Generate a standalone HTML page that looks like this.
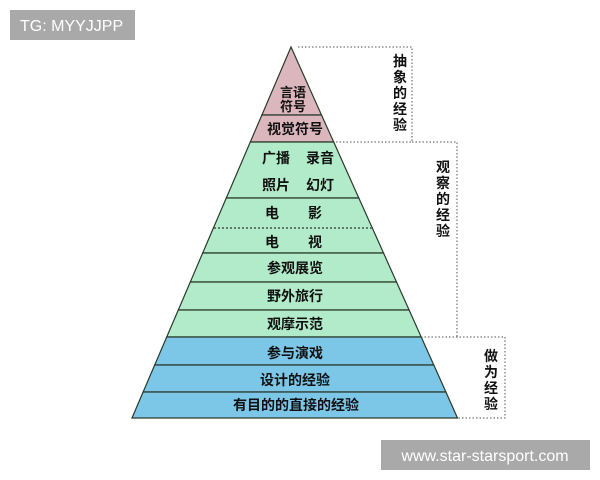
<!DOCTYPE html>
<html><head><meta charset="utf-8"><style>
body{margin:0;width:600px;height:480px;background:#fff;overflow:hidden;font-family:"Liberation Sans","Noto Sans CJK SC",sans-serif}
</style></head><body>
<svg width="600" height="480" xmlns="http://www.w3.org/2000/svg" style="position:absolute;left:0;top:0">
<rect x="10" y="10" width="125" height="30" fill="#a9a9a9"/>
<text x="20" y="31" font-size="16" fill="#fff" font-family="Liberation Sans, sans-serif">TG: MYYJJPP</text>
<g stroke="#2a3a2a" stroke-width="1.2">
<polygon points="291,47 321.5,115 261.9,115" fill="#dcb6bd"/>
<polygon points="261.9,115 321.5,115 333.7,142 250.3,142" fill="#dcb6bd"/>
<polygon points="250.3,142 333.7,142 358.8,198 226.3,198" fill="#b2ebc9"/>
<polygon points="226.3,198 358.8,198 372.3,228 213.4,228" fill="#b2ebc9"/>
<polygon points="213.4,228 372.3,228 383.5,253 202.7,253" fill="#b2ebc9"/>
<polygon points="202.7,253 383.5,253 396.5,282 190.3,282" fill="#b2ebc9"/>
<polygon points="190.3,282 396.5,282 409.1,310 178.3,310" fill="#b2ebc9"/>
<polygon points="178.3,310 409.1,310 421.2,337 166.7,337" fill="#b2ebc9"/>
<polygon points="166.7,337 421.2,337 433.8,365 154.7,365" fill="#7cc6e8"/>
<polygon points="154.7,365 433.8,365 445.9,392 143.1,392" fill="#7cc6e8"/>
<polygon points="143.1,392 445.9,392 457.5,418 132,418" fill="#7cc6e8"/>
</g>
<line x1="214" y1="228" x2="372" y2="228" stroke="#b2ebc9" stroke-width="2"/>
<line x1="214" y1="228" x2="372" y2="228" stroke="#333" stroke-width="1.2" stroke-dasharray="2,2"/>
<g fill="none" stroke="#555" stroke-width="1" stroke-dasharray="1.5,2">
<polyline points="298,47 412,47 412,142 334,142"/>
<polyline points="412,142 457,142 457,337"/>
<polyline points="421,337 505,337 505,418 458,418"/>
</g>
<g font-size="13" font-weight="bold" fill="#111" text-anchor="middle">
<text x="293" y="97">言语</text>
<text x="293" y="111">符号</text>
</g>
<g font-size="14" font-weight="bold" fill="#111" text-anchor="middle">
<text x="295" y="134">视觉符号</text>
<text x="276" y="163">广播</text><text x="320" y="163">录音</text>
<text x="276" y="190">照片</text><text x="320" y="190">幻灯</text>
<text x="272" y="218">电</text><text x="315" y="218">影</text>
<text x="272" y="247">电</text><text x="315" y="247">视</text>
<text x="295" y="273">参观展览</text>
<text x="295" y="301">野外旅行</text>
<text x="295" y="329">观摩示范</text>
<text x="295" y="358">参与演戏</text>
<text x="295" y="385">设计的经验</text>
<text x="296" y="410">有目的的直接的经验</text>
</g>
<g font-size="14" font-weight="bold" fill="#111" text-anchor="middle">
<text x="400" y="66">抽</text><text x="400" y="82">象</text><text x="400" y="98">的</text><text x="400" y="114">经</text><text x="400" y="130">验</text>
<text x="443" y="172">观</text><text x="443" y="188">察</text><text x="443" y="204">的</text><text x="443" y="220">经</text><text x="443" y="236">验</text>
<text x="491" y="361">做</text><text x="491" y="377">为</text><text x="491" y="393">经</text><text x="491" y="409">验</text>
</g>
<rect x="381" y="440" width="209" height="30" fill="#a9a9a9"/>
<text x="485" y="461" font-size="16" fill="#fff" text-anchor="middle" font-family="Liberation Sans, sans-serif">www.star-starsport.com</text>
</svg>
</body></html>
